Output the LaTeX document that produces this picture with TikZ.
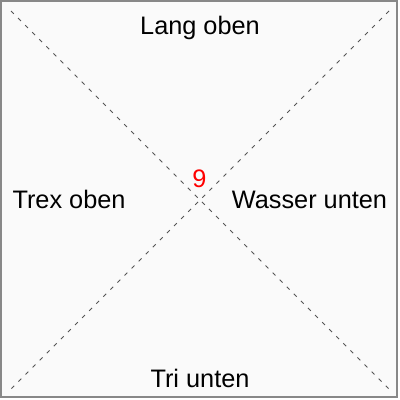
\documentclass[tikz,border=0pt]{standalone}
\usepackage{fontspec}
\setmainfont{Liberation Sans}
\usetikzlibrary{positioning}
\definecolor{framegray}{HTML}{888888}
\definecolor{diaggray}{HTML}{555555}
\definecolor{bggray}{HTML}{FAFAFA}
\begin{document}
\begin{tikzpicture}[x=0.25mm,y=-0.25mm,
         sidetext/.style = {font=\fontsize{18}{21}\selectfont, inner sep=0pt,
         anchor=base},
         diag/.style = {draw=diaggray, line width=0.25mm,
         dash pattern=on 1mm off 1.5mm}]

   \useasboundingbox (0,0) rectangle (400,400);
   \draw[framegray, fill=bggray, line width=0.5mm] (1,1) rectangle (397,397);

   % corners of the cross
   \coordinate (tl) at (11,11);
   \coordinate (tr) at (389,11);
   \coordinate (bl) at (11,389);
   \coordinate (br) at (389,389);

   \draw[diag] (tl) -- (br);
   \draw[diag] (tr) -- (bl);

   % the four sides
   \node[sidetext] (lang)   at (200,34)  {Lang oben};
   \node[sidetext] (trex)   at (69,208)  {Trex oben};
   \node[sidetext] (wasser) at (309.5,208) {Wasser unten};
   \node[sidetext] (tri)    at (200,387) {Tri unten};

   % value in the middle
   \node[sidetext, red] (val) at (199.5,187) {9};

\end{tikzpicture}
\end{document}
